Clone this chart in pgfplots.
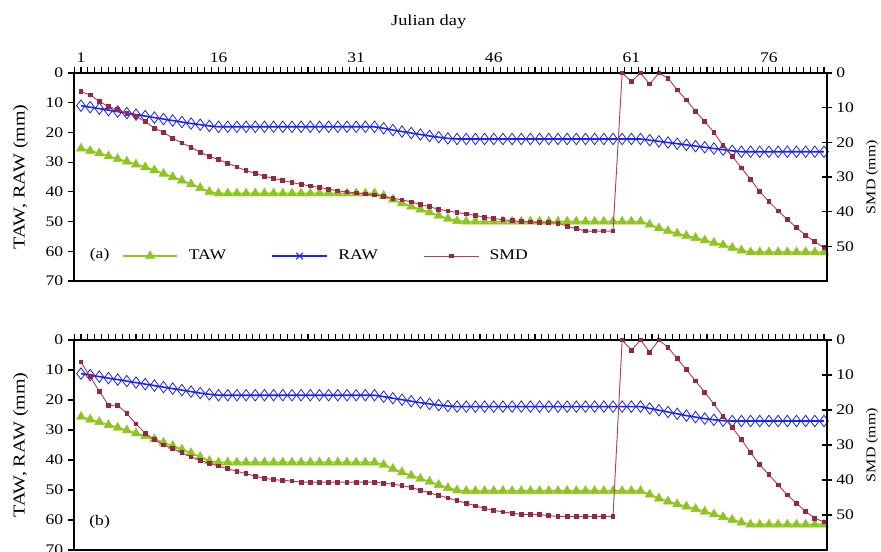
\documentclass[border=0pt]{standalone}
\usepackage{fontspec}
\setmainfont{Liberation Serif}[FakeStretch=1.2]
\usepackage{pgfplots}
\usepackage{pgfplotstable}
\pgfplotsset{compat=1.18}

\definecolor{tawc}{RGB}{140,198,30}
\definecolor{rawc}{RGB}{25,35,250}
\definecolor{smdc}{RGB}{176,64,96}
\definecolor{smdm}{RGB}{150,40,70}

% depths in mm (plotted downward from 0)
\pgfplotstableread{
day tawA rawA smdA tawB rawB smdB
1 25.4 11.0 5.4 25.6 11.2 6.3
2 26.2 11.5 6.3 26.5 11.7 10.5
3 27.0 12.0 8.2 27.3 12.2 14.6
4 28.0 12.5 9.7 28.3 12.7 18.7
5 28.9 13.0 10.6 29.2 13.2 18.6
6 29.8 13.5 11.6 30.1 13.7 21.0
7 30.8 14.0 12.5 31.1 14.2 24.0
8 31.7 14.5 14.0 32.0 14.7 26.6
9 32.7 15.0 15.9 33.0 15.2 28.5
10 33.9 15.5 17.1 34.2 15.7 30.0
11 35.0 16.0 18.8 35.3 16.2 31.0
12 36.2 16.5 20.2 36.5 16.7 32.2
13 37.4 17.0 21.4 37.7 17.2 33.4
14 38.7 17.4 22.9 39.0 17.7 34.4
15 40.0 17.8 24.0 40.3 18.1 35.2
16 40.5 18.1 25.0 40.8 18.4 36.0
17 40.5 18.1 26.0 40.8 18.4 36.8
18 40.5 18.1 27.1 40.8 18.4 37.5
19 40.5 18.1 28.2 40.8 18.4 38.2
20 40.5 18.1 28.9 40.8 18.4 38.9
21 40.5 18.1 29.8 40.8 18.4 39.5
22 40.5 18.1 30.4 40.8 18.4 39.9
23 40.5 18.1 31.0 40.8 18.4 40.1
24 40.5 18.1 31.6 40.8 18.4 40.3
25 40.5 18.1 32.1 40.8 18.4 40.6
26 40.5 18.1 32.6 40.8 18.4 40.6
27 40.5 18.1 33.0 40.8 18.4 40.6
28 40.5 18.1 33.5 40.8 18.4 40.6
29 40.5 18.1 34.0 40.8 18.4 40.6
30 40.5 18.1 34.3 40.8 18.4 40.6
31 40.5 18.1 34.6 40.8 18.4 40.6
32 40.5 18.1 34.9 40.8 18.4 40.6
33 40.5 18.1 35.2 40.8 18.4 40.6
34 41.3 18.6 35.6 41.6 18.9 40.9
35 42.6 19.2 36.1 42.9 19.4 41.2
36 43.8 19.7 36.6 44.1 19.9 41.6
37 44.9 20.2 37.2 45.2 20.4 42.1
38 45.9 20.7 37.9 46.2 20.9 42.9
39 46.9 21.2 38.6 47.2 21.3 43.7
40 48.0 21.6 39.3 48.3 21.7 44.4
41 49.0 22.0 39.8 49.3 22.0 45.1
42 49.8 22.2 40.2 50.1 22.2 45.9
43 50.0 22.2 40.7 50.3 22.2 46.6
44 50.0 22.2 41.1 50.3 22.2 47.4
45 50.0 22.2 41.6 50.3 22.2 48.1
46 50.0 22.2 42.0 50.3 22.2 48.7
47 50.0 22.2 42.3 50.3 22.2 49.1
48 50.0 22.2 42.6 50.3 22.2 49.5
49 50.0 22.2 42.8 50.3 22.2 49.8
50 50.0 22.2 43.0 50.3 22.2 49.8
51 50.0 22.2 43.2 50.3 22.2 49.9
52 50.0 22.2 43.2 50.3 22.2 50.2
53 50.0 22.2 43.3 50.3 22.2 50.4
54 50.0 22.2 44.2 50.3 22.2 50.4
55 50.0 22.2 44.9 50.3 22.2 50.4
56 50.0 22.2 45.6 50.3 22.2 50.4
57 50.0 22.2 45.6 50.3 22.2 50.4
58 50.0 22.2 45.6 50.3 22.2 50.4
59 50.0 22.2 45.6 50.3 22.2 50.4
60 50.0 22.2 0.0 50.3 22.2 0.0
61 50.0 22.2 2.5 50.3 22.2 2.9
62 50.0 22.2 0.0 50.3 22.2 0.0
63 51.0 22.6 3.2 51.5 22.8 3.5
64 52.2 23.0 0.0 52.8 23.4 0.0
65 53.2 23.4 1.5 53.8 24.0 2.1
66 54.0 23.8 4.9 54.7 24.6 5.3
67 54.8 24.2 7.8 55.5 25.2 8.5
68 55.5 24.6 11.1 56.3 25.7 11.7
69 56.3 25.0 14.0 57.2 26.2 14.9
70 57.1 25.4 17.1 58.1 26.6 18.3
71 57.9 25.8 21.0 59.0 26.9 21.9
72 58.8 26.2 24.0 59.9 27.0 25.0
73 59.7 26.5 27.4 60.8 27.0 28.4
74 60.3 26.5 30.7 61.5 27.0 32.2
75 60.3 26.5 34.2 61.5 27.0 35.6
76 60.3 26.5 37.1 61.5 27.0 38.5
77 60.3 26.5 39.8 61.5 27.0 41.4
78 60.3 26.5 42.2 61.5 27.0 44.3
79 60.3 26.5 44.6 61.5 27.0 46.6
80 60.3 26.5 46.8 61.5 27.0 49.0
81 60.3 26.5 48.7 61.5 27.0 50.9
82 60.3 26.5 50.4 61.5 27.0 52.0
}\data

\pgfplotsset{
  base/.style={
    scale only axis, width=564.75pt, anchor=south west,
    xmin=0.24, xmax=82.33,
    /pgf/number format/assume math mode=true,
    tick label style={font=\fontsize{11pt}{13pt}\selectfont},
    axis line style={line width=1.2pt, black},
    tick style={line width=0.8pt, black},
  },
  xt/.style={
    xtick={1,16,31,46,61,76},
    minor xtick={0.25,1,1.75,2.5,3.25,4,4.75,5.5,6.25,7,7.75,8.5,9.25,10,10.75,11.5,12.25,13,13.75,14.5,15.25,16,16.75,17.5,18.25,19,19.75,20.5,21.25,22,22.75,23.5,24.25,25,25.75,26.5,27.25,28,28.75,29.5,30.25,31,31.75,32.5,33.25,34,34.75,35.5,36.25,37,37.75,38.5,39.25,40,40.75,41.5,42.25,43,43.75,44.5,45.25,46,46.75,47.5,48.25,49,49.75,50.5,51.25,52,52.75,53.5,54.25,55,55.75,56.5,57.25,58,58.75,59.5,60.25,61,61.75,62.5,63.25,64,64.75,65.5,66.25,67,67.75,68.5,69.25,70,70.75,71.5,72.25,73,73.75,74.5,75.25,76,76.75,77.5,78.25,79,79.75,80.5,81.25,82},
  },
  leftax/.style={base, xt,
    xtick align=outside,
    ytick pos=left, ytick align=outside,
    ymin=-70, ymax=0,
    ytick={-70,-60,-50,-40,-30,-20,-10,0},
    yticklabels={70,60,50,40,30,20,10,0},
    major tick length=4.5pt, minor tick length=4.5pt,
    major tick style={draw=none}, minor tick style={draw=none},
    xticklabel pos=right,
    ylabel={TAW, RAW (mm)},
    ylabel style={at={(axis description cs:-0.071,0.5)}, anchor=center, font=\fontsize{12.5pt}{14pt}\selectfont},
  },
  rightax/.style={base,
    axis x line=none, axis y line*=right,
    ymin=-60, ymax=0,
    ytick={-50,-40,-30,-20,-10,0},
    yticklabels={50,40,30,20,10,0},
    ytick align=center, major tick length=7pt,
    major tick style={draw=none},
    ylabel={SMD (mm)},
    ylabel style={at={(axis description cs:1.06,0.5)}, anchor=center, font=\fontsize{10pt}{12pt}\selectfont},
  },
  % thin tick strips (inside ticks that fill the strip = outside ticks of the panel)
  strip/.style={scale only axis, anchor=south west,
    axis line style={draw=none},
    tick style={line width=0.8pt, black},
    minor tick style={line width=0.8pt, black},
    xticklabels={}, yticklabels={},
    tick align=inside,
  },
  topstrip/.style={strip, xt, xmin=0.24, xmax=82.33, ymin=0, ymax=1, ytick=\empty,
    width=564.75pt, height=4.5pt, major tick length=4.5pt, minor tick length=4.5pt},
  leftstrip/.style={strip, xmin=0, xmax=1, xtick=\empty, ymin=-70, ymax=0,
    ytick={-70,-60,-50,-40,-30,-20,-10,0}, width=4.5pt, major tick length=4.5pt},
  rightstrip/.style={strip, xmin=0, xmax=1, xtick=\empty, ymin=-60, ymax=0,
    ytick={-50,-40,-30,-20,-10,0}, width=8pt, major tick length=8pt},
  tawst/.style={color=tawc, line width=1.2pt, mark=triangle*, mark size=4pt, mark options={line width=0.3pt}},
  rawst/.style={color=rawc, line width=1.2pt, mark=diamond, mark size=4.3pt, mark options={line width=0.6pt}},
  smdst/.style={color=smdc, line width=0.7pt, mark=square*, mark size=1.4pt, mark options={fill=smdm, draw=smdm}},
}

\begin{document}
\begin{tikzpicture}[font=\fontsize{11pt}{13pt}\selectfont]
\path[use as bounding box] (0,0) rectangle (660.75pt,-414pt);

% ---------- panel (a) ----------
\begin{axis}[leftax, at={(55.5pt,-210.75pt)}, height=156pt,
  xlabel={Julian day},
  xlabel style={at={(axis description cs:0.471,1.245)}, anchor=center, font=\fontsize{11.5pt}{13pt}\selectfont},
  legend columns=3,
  legend style={draw=none, fill=none, at={(0.058,0.12)}, anchor=west, font=\fontsize{11pt}{13pt}\selectfont,
    /tikz/every odd column/.append style={column sep=6pt},
    /tikz/every even column/.append style={column sep=32pt}},
  legend image code/.code={\draw[mark repeat=2,mark phase=2,#1] plot coordinates {(0pt,0pt) (20.5pt,0pt) (41pt,0pt)};},
]
\addplot[tawst, forget plot] table[x=day, y expr=-\thisrow{tawA}]{\data};
\addplot[rawst, forget plot] table[x=day, y expr=-\thisrow{rawA}]{\data};
\addlegendimage{tawst}
\addlegendimage{color=rawc, line width=1.2pt, mark=x, mark size=3.5pt, mark options={line width=0.8pt}}
\addlegendimage{smdst}
\legend{TAW, RAW, SMD}
\node[anchor=center] at (axis description cs:0.034,0.125) {(a)};
\end{axis}
\begin{axis}[rightax, at={(55.5pt,-210.75pt)}, height=156pt]
\addplot[smdst] table[x=day, y expr=-\thisrow{smdA}]{\data};
\end{axis}
\begin{axis}[topstrip, at={(55.5pt,-54.75pt)}]
\end{axis}
\begin{axis}[leftstrip, at={(51pt,-210.75pt)}, height=156pt]
\end{axis}
\begin{axis}[rightstrip, at={(616.25pt,-210.75pt)}, height=156pt]
\end{axis}

% ---------- panel (b) ----------
\begin{axis}[leftax, at={(55.5pt,-412.5pt)}, height=157.5pt,
  xticklabels={},
]
\addplot[tawst] table[x=day, y expr=-\thisrow{tawB}]{\data};
\addplot[rawst] table[x=day, y expr=-\thisrow{rawB}]{\data};
\node[anchor=center] at (axis description cs:0.034,0.133) {(b)};
\end{axis}
\begin{axis}[rightax, at={(55.5pt,-412.5pt)}, height=157.5pt]
\addplot[smdst] table[x=day, y expr=-\thisrow{smdB}]{\data};
\end{axis}
\begin{axis}[topstrip, at={(55.5pt,-255pt)}]
\end{axis}
\begin{axis}[leftstrip, at={(51pt,-412.5pt)}, height=157.5pt]
\end{axis}
\begin{axis}[rightstrip, at={(616.25pt,-412.5pt)}, height=157.5pt]
\end{axis}
\end{tikzpicture}
\end{document}
